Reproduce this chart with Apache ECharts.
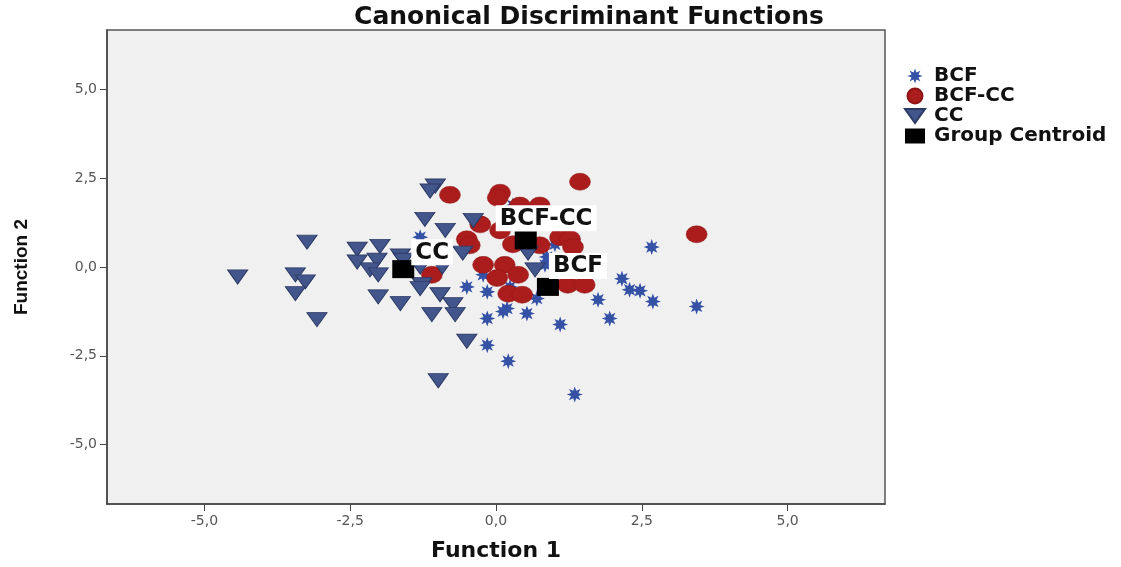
<!DOCTYPE html>
<html>
<head>
<meta charset="utf-8">
<script src="https://cdn.jsdelivr.net/npm/echarts@6/dist/echarts.min.js"></script>
<style>
html,body{margin:0;padding:0;background:#fff;}
#c{width:1121px;height:567px;}
</style>
</head>
<body>
<div id="c"></div>
<script>
const titleText = 'Canonical Discriminant Functions';
const xName = 'Function 1';
const yName = 'Function 2';
const tickValues = [-5, -2.5, 0, 2.5, 5];
const groupNames = ['BCF', 'BCF-CC', 'CC'];

const bcf = [
  [2.67,0.56],[2.16,-0.33],[2.29,-0.64],[2.47,-0.67],[1.75,-0.92],[1.95,-1.45],
  [2.69,-0.97],[3.44,-1.11],[1.35,-3.59],[1.10,-1.62],[0.21,-2.65],[-0.15,-2.20],
  [-0.15,-1.45],[0.19,-1.17],[0.12,-1.25],[0.53,-1.31],[-0.50,-0.56],[-0.15,-0.70],
  [0.70,-0.89],[0.87,0.28],[0.84,0.06],[-0.22,-0.22],[0.24,-0.56],[-1.30,0.84],
  [1.01,0.64],[0.29,1.73]
];
const bcfcc = [
  [1.44,2.40],[-0.79,2.03],[0.07,2.09],[0.03,1.95],[0.75,1.73],[0.41,1.73],
  [-0.27,1.20],[0.07,1.03],[-0.50,0.78],[-0.45,0.61],[0.29,0.64],[0.75,0.61],
  [1.10,0.84],[1.27,0.78],[1.32,0.56],[-0.22,0.06],[0.15,0.06],[0.38,-0.22],
  [0.02,-0.31],[-1.10,-0.22],[0.21,-0.75],[0.45,-0.78],[1.23,-0.50],[1.52,-0.50],
  [3.44,0.92]
];
const cc = [
  [-4.43,-0.28],[-3.24,0.70],[-3.44,-0.22],[-3.27,-0.42],[-3.44,-0.75],[-3.07,-1.48],
  [-2.38,0.50],[-1.99,0.58],[-2.38,0.14],[-2.04,0.19],[-2.16,-0.08],[-2.02,-0.22],
  [-1.64,0.31],[-1.59,0.19],[-2.02,-0.84],[-1.64,-1.03],[-1.04,2.28],[-1.13,2.14],
  [-1.22,1.34],[-0.87,1.03],[-1.27,-0.50],[-1.30,-0.61],[-0.96,-0.78],[-1.10,-1.34],
  [-0.74,-1.06],[-0.70,-1.34],[-0.92,0.00],[-0.39,1.31],[-0.57,0.39],[0.55,0.39],
  [0.67,-0.08],[-0.50,-2.09],[-0.99,-3.20],[-1.30,0.00]
];
const centroidNames = ['CC', 'BCF-CC', 'BCF'];
const centroids = [[-1.59,-0.06],[0.51,0.75],[0.89,-0.56]];

const starPath = 'path://M20 10 L14.62 11.91 L17.07 17.07 L11.91 14.62 L10 20 L8.09 14.62 L2.93 17.07 L5.38 11.91 L0 10 L5.38 8.09 L2.93 2.93 L8.09 5.38 L10 0 L11.91 5.38 L17.07 2.93 L14.62 8.09 Z';
const triDown = 'path://M0 0 L20 0 L10 14 Z';

const labelPos = [[19,5],[-19,0],[12,1]];

const fmt = v => v.toFixed(1).replace('.', ',');

const chart = echarts.init(document.getElementById('c'), null, {renderer:'canvas'});
chart.setOption({
  backgroundColor: '#ffffff',
  animation: false,
  title: {
    text: titleText, left: 584, top: 0, textAlign: 'center',
    textStyle: {fontFamily: 'DejaVu Sans', fontWeight: 'bold', fontSize: 25, color: '#111'}
  },
  legend: {
    orient: 'vertical', left: 899, top: 61, itemGap: 0, itemWidth: 20, itemHeight: 15,
    textStyle: {fontFamily: 'DejaVu Sans', fontWeight: 'bold', fontSize: 20, lineHeight: 20, color: '#111', padding:[0,0,0,4]},
    data: [
      {name: 'BCF', icon: starPath},
      {name: 'BCF-CC', icon: 'circle'},
      {name: 'CC', icon: triDown},
      {name: 'Group Centroid', icon: 'rect'}
    ]
  },
  grid: {
    left: 107, right: 236, top: 30, bottom: 53,
    show: true, backgroundColor: '#f0f0f0', borderColor: '#555', borderWidth: 1.5
  },
  xAxis: {
    type: 'value', min: -6.67, max: 6.67,
    name: xName, nameLocation: 'middle', nameGap: 36,
    nameTextStyle: {fontFamily: 'DejaVu Sans', fontWeight: 'bold', fontSize: 22, color: '#111'},
    axisLine: {show: true, onZero: false, lineStyle: {color: '#444', width: 1.5}},
    axisTick: {show: true, length: 7, customValues: tickValues, lineStyle: {color: '#444'}},
    axisLabel: {customValues: tickValues, formatter: fmt, margin: 10, fontFamily: 'DejaVu Sans', fontSize: 14, color: '#555'},
    splitLine: {show: false}
  },
  yAxis: {
    type: 'value', min: -6.67, max: 6.67,
    name: yName, nameLocation: 'middle', nameGap: 76, nameRotate: 90,
    nameTextStyle: {fontFamily: 'Liberation Sans', fontWeight: 'bold', fontSize: 19, color: '#111'},
    axisLine: {show: true, onZero: false, lineStyle: {color: '#444', width: 1.5}},
    axisTick: {show: true, length: 7, customValues: tickValues, lineStyle: {color: '#444'}},
    axisLabel: {customValues: tickValues, formatter: fmt, margin: 10, fontFamily: 'DejaVu Sans', fontSize: 14, color: '#555'},
    splitLine: {show: false}
  },
  series: [
    {
      name: groupNames[0], type: 'scatter', data: bcf, symbol: starPath, symbolSize: 16,
      itemStyle: {color: '#3451a6', opacity: 1}
    },
    {
      name: groupNames[1], type: 'scatter', data: bcfcc, symbol: 'circle', symbolSize: [21,17],
      itemStyle: {color: '#ab1c1c', borderColor: '#8e1515', borderWidth: 0.5, opacity: 1}
    },
    {
      name: groupNames[2], type: 'scatter', data: cc, symbol: triDown, symbolSize: [20,14],
      itemStyle: {color: '#43568c', borderColor: '#2c3a66', borderWidth: 1, opacity: 1}
    },
    {
      name: 'Group Centroid', type: 'scatter', symbol: 'rect', symbolSize: [22,18], z: 5,
      itemStyle: {color: '#000', opacity: 1},
      data: centroids.map((p, i) => ({
        value: p, name: centroidNames[i],
        label: {
          show: true, formatter: centroidNames[i], position: labelPos[i],
          align: 'left', verticalAlign: 'bottom',
          backgroundColor: '#ffffff', padding: [2, 4, 1, 4],
          fontFamily: 'DejaVu Sans', fontWeight: 'bold', fontSize: 23, color: '#111'
        }
      }))
    }
  ]
});
</script>
</body>
</html>
